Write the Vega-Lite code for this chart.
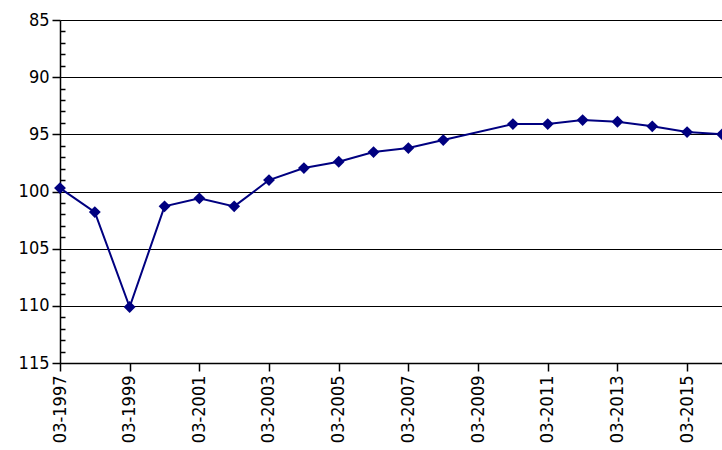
{
  "$schema": "https://vega.github.io/schema/vega-lite/v6.json",
  "width": 662,
  "height": 343,
  "autosize": {"type": "none"},
  "padding": {"left": 60, "top": 20, "right": 0, "bottom": 87},
  "data": {
    "values": [
      {"date": "1997-03-01", "value": 99.7},
      {"date": "1998-03-01", "value": 101.8},
      {"date": "1999-03-01", "value": 110.1},
      {"date": "2000-03-01", "value": 101.3},
      {"date": "2001-03-01", "value": 100.6},
      {"date": "2002-03-01", "value": 101.3},
      {"date": "2003-03-01", "value": 99.0},
      {"date": "2004-03-01", "value": 97.95},
      {"date": "2005-03-01", "value": 97.4},
      {"date": "2006-03-01", "value": 96.55},
      {"date": "2007-03-01", "value": 96.2},
      {"date": "2008-03-01", "value": 95.5},
      {"date": "2010-03-01", "value": 94.1},
      {"date": "2011-03-01", "value": 94.1},
      {"date": "2012-03-01", "value": 93.75},
      {"date": "2013-03-01", "value": 93.9},
      {"date": "2014-03-01", "value": 94.3},
      {"date": "2015-03-01", "value": 94.8},
      {"date": "2016-03-01", "value": 95.0}
    ]
  },
  "encoding": {
    "x": {
      "field": "date",
      "type": "temporal",
      "title": null,
      "scale": {"domain": ["1997-03-01", "2016-03-01"]},
      "axis": {
        "values": ["1997-03-01", "1999-03-01", "2001-03-01", "2003-03-01", "2005-03-01", "2007-03-01", "2009-03-01", "2011-03-01", "2013-03-01", "2015-03-01"],
        "format": "%m-%Y",
        "labelAngle": 270,
        "labelAlign": "right",
        "labelBaseline": "middle",
        "grid": false,
        "tickSize": 8,
        "labelPadding": 4,
        "labelFlush": false
      }
    },
    "y": {
      "field": "value",
      "type": "quantitative",
      "title": null,
      "scale": {"domain": [85, 115], "reverse": true, "zero": false, "nice": false},
      "axis": {
        "values": [85, 86, 87, 88, 89, 90, 91, 92, 93, 94, 95, 96, 97, 98, 99, 100, 101, 102, 103, 104, 105, 106, 107, 108, 109, 110, 111, 112, 113, 114, 115],
        "labelExpr": "datum.value % 5 === 0 ? datum.label : ''",
        "grid": true,
        "gridColor": "#000000",
        "gridWidth": 1.2,
        "gridOpacity": {"condition": {"test": "datum.value % 5 === 0", "value": 1}, "value": 0},
        "tickSize": {"condition": {"test": "datum.value % 5 === 0", "value": 8}, "value": -5},
        "labelPadding": 3
      }
    }
  },
  "layer": [
    {
      "mark": {"type": "line", "color": "#000080", "strokeWidth": 2},
      "encoding": {}
    },
    {
      "mark": {"type": "point", "shape": "diamond", "filled": true, "color": "#000080", "opacity": 1, "size": 140},
      "encoding": {}
    }
  ],
  "config": {
    "view": {"stroke": null},
    "font": "DejaVu Sans Condensed",
    "axis": {
      "labelFont": "DejaVu Sans Condensed",
      "labelFontSize": 18,
      "labelColor": "#000000",
      "domainColor": "#000000",
      "tickColor": "#000000",
      "domainWidth": 1.5,
      "tickWidth": 1.5
    }
  }
}
